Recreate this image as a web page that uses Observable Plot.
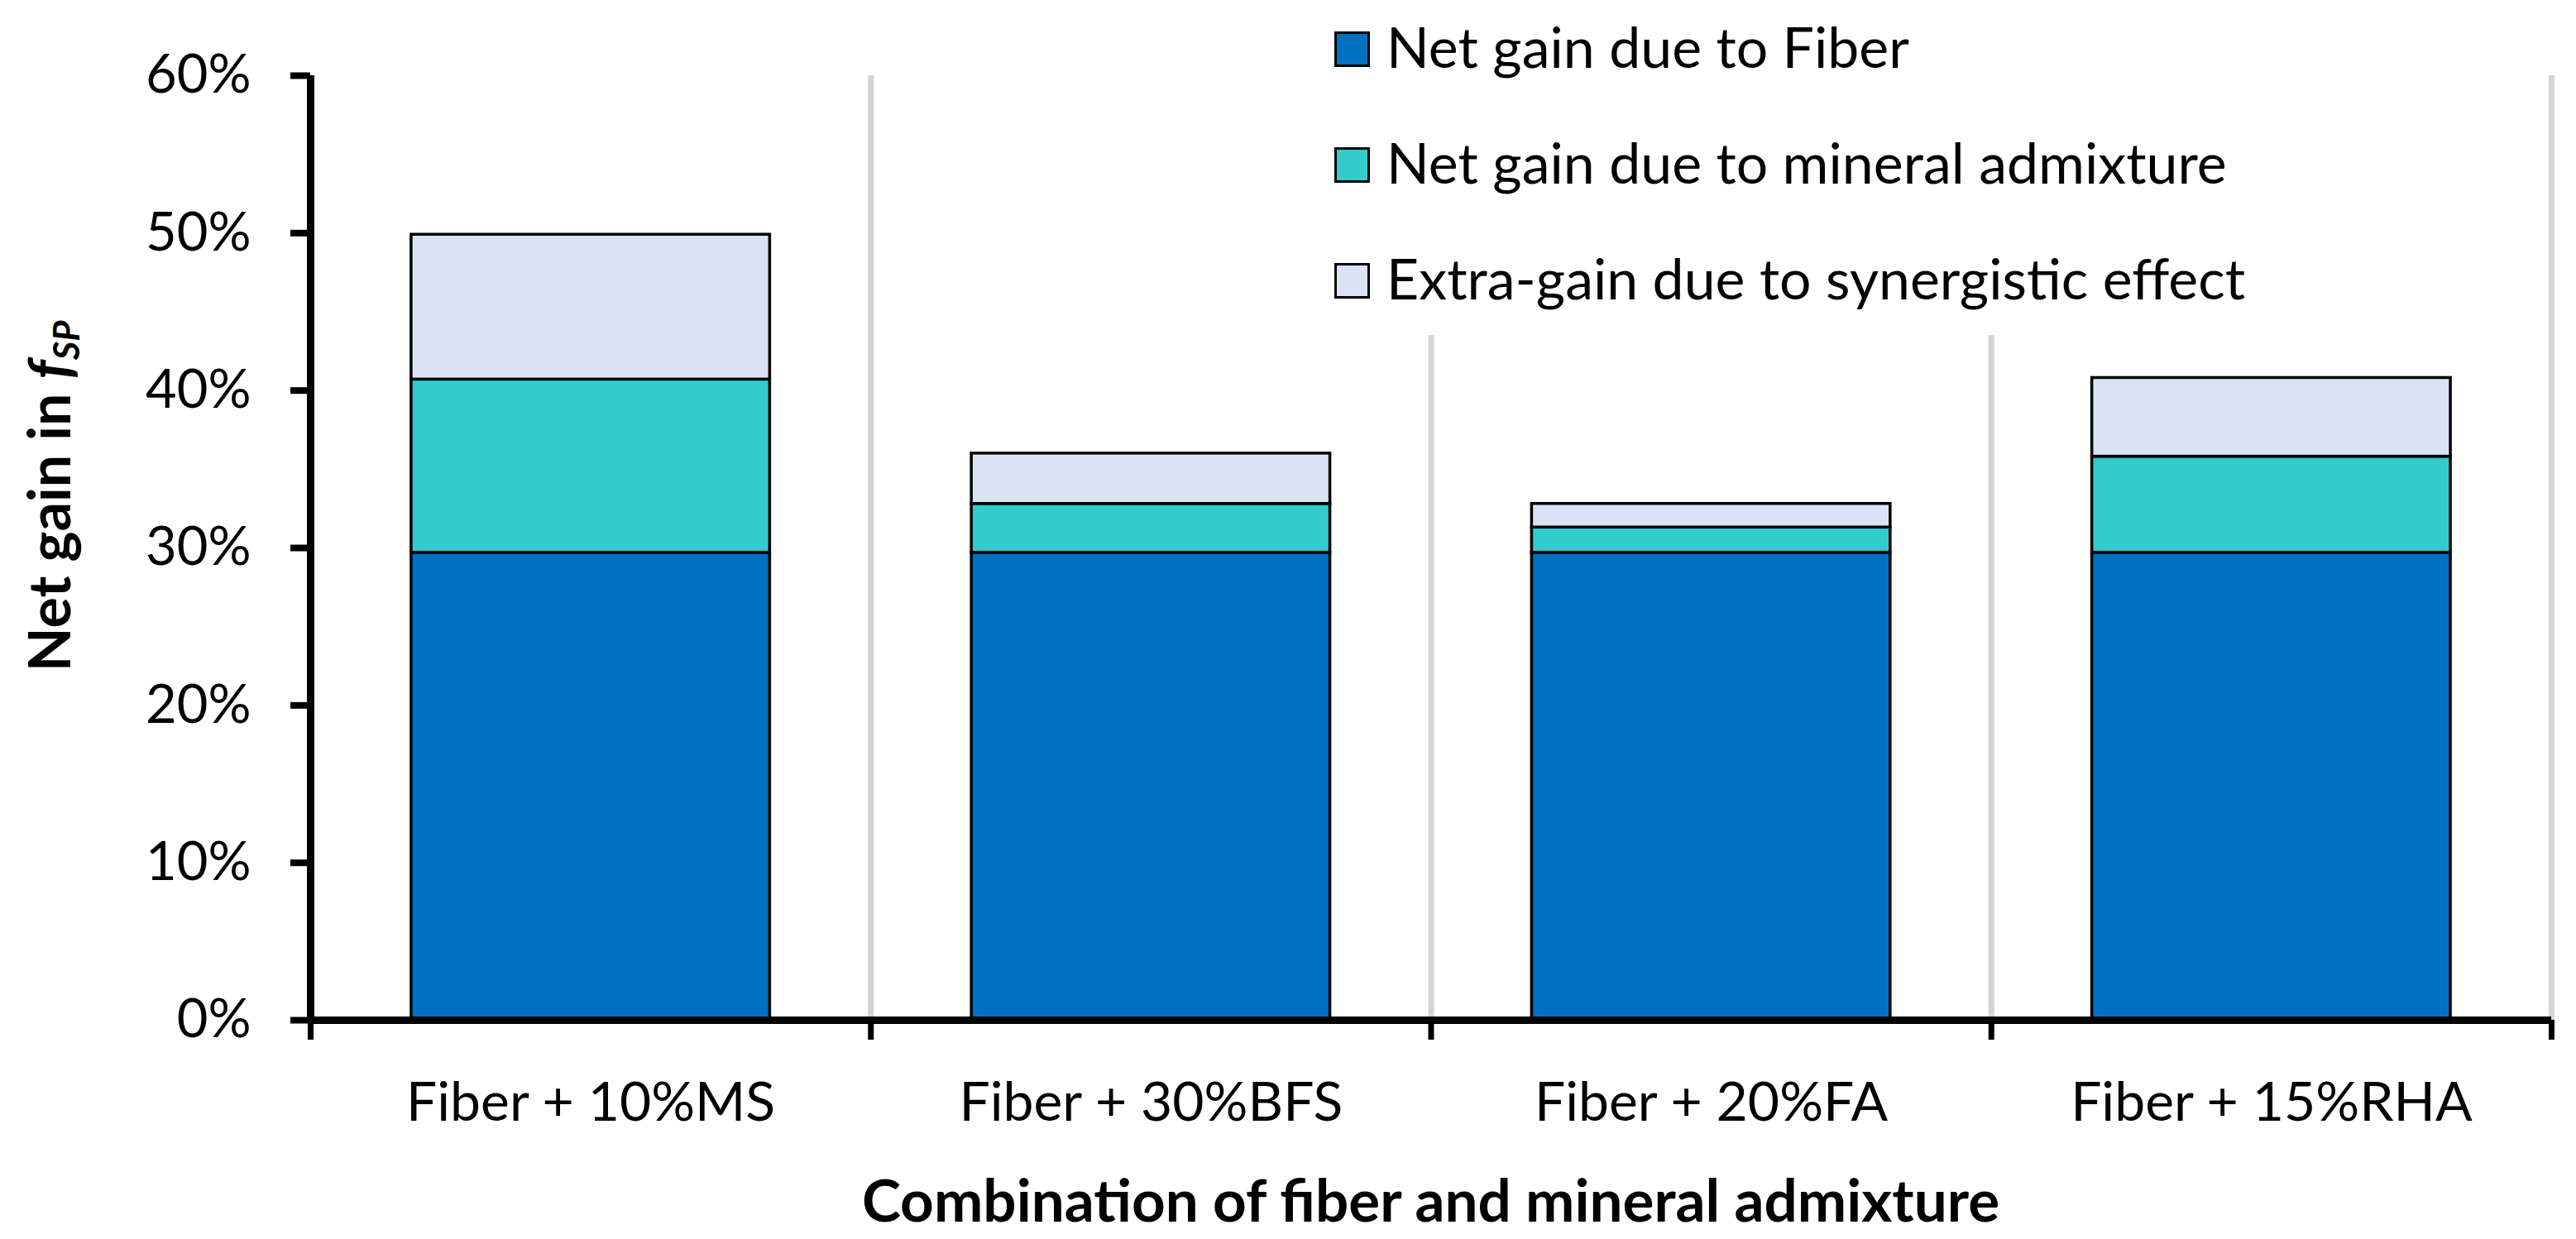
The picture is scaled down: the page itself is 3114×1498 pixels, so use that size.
<!DOCTYPE html>
<html>
<head>
<meta charset="utf-8">
<script src="https://cdn.jsdelivr.net/npm/d3@7"></script>
<script src="https://cdn.jsdelivr.net/npm/@observablehq/plot@0.6"></script>
<style>
  html, body { margin: 0; padding: 0; background: white; overflow: hidden; }
  #wrap { position: relative; width: 3114px; height: 1498px; font-family: "Lato", sans-serif; color: black; }
  #legend { position: absolute; left: 1600px; top: 0px; width: 1180px; height: 405px; background: white; }
  .row { position: absolute; left: 13px; height: 43px; display: flex; align-items: center; }
  .sw { width: 43px; height: 43px; box-sizing: border-box; border: 3px solid black; flex: none; }
  .lt { margin-left: 20px; font-size: 68px; line-height: 1; position: relative; top: -4px; white-space: nowrap; }
  #ytitle { position: absolute; left: 62px; top: 600px; transform: translate(-50%, -50%) rotate(-90deg); font-weight: bold; font-size: 70px; line-height: 1; white-space: nowrap; }
  #ytitle sub { font-size: 0.62em; font-style: italic; vertical-align: -0.25em; }
  #xtitle { position: absolute; left: 375px; width: 2709px; top: 1414px; text-align: center; font-weight: bold; font-size: 71px; line-height: 1; white-space: nowrap; }
</style>
</head>
<body>
<div id="wrap">
  <div id="chart"></div>
  <div id="legend"></div>
  <div id="ytitle">Net gain in <i>f</i><sub>SP</sub></div>
  <div id="xtitle">Combination of fiber and mineral admixture</div>
</div>
<script>
const categories = ["Fiber + 10%MS", "Fiber + 30%BFS", "Fiber + 20%FA", "Fiber + 15%RHA"];
const seriesNames = ["Net gain due to Fiber", "Net gain due to mineral admixture", "Extra-gain due to synergistic effect"];
const seriesColors = ["#0070C0", "#33CCCC", "#DAE3F3"];
const fiberGain = [29.7, 29.7, 29.7, 29.7];
const mineralGain = [11.0, 3.1, 1.6, 6.1];
const synergyGain = [9.2, 3.2, 1.5, 5.0];
const yTicks = [0, 10, 20, 30, 40, 50, 60];

const seriesValues = [fiberGain, mineralGain, synergyGain];
const rows = [];
categories.forEach((c, i) => {
  let base = 0;
  seriesValues.forEach((vals, s) => {
    rows.push({idx: i, category: c, series: seriesNames[s], y1: base, y2: base + vals[i]});
    base += vals[i];
  });
});

const pad = 0.18;
const chart = Plot.plot({
  width: 3114,
  height: 1498,
  marginLeft: 375,
  marginRight: 30,
  marginTop: 91,
  marginBottom: 265,
  style: {fontFamily: "Lato", fontSize: "65px", background: "white", color: "black"},
  x: {domain: [0, categories.length], axis: null},
  y: {domain: [0, 60], axis: null},
  color: {domain: seriesNames, range: seriesColors},
  marks: [
    Plot.ruleX(d3.range(1, categories.length + 1), {stroke: "#d4d4d4", strokeWidth: 7}),
    Plot.rectY(rows, {
      x1: d => d.idx + pad,
      x2: d => d.idx + 1 - pad,
      y1: "y1",
      y2: "y2",
      fill: "series",
      stroke: "black",
      strokeWidth: 3.5
    }),
    Plot.axisY({ticks: yTicks, tickFormat: d => d + "%", tickSize: 24, tickPadding: 48, strokeWidth: 8, fontSize: 65}),
    Plot.axisX({ticks: d3.range(0, categories.length + 1), tickSize: 24, tickFormat: () => "", strokeWidth: 7}),
    Plot.axisX({ticks: categories.map((c, i) => i + 0.5), tickSize: 0, tickPadding: 75, tickFormat: v => categories[Math.floor(v)], fontSize: 66}),
    Plot.ruleY([0], {stroke: "black", strokeWidth: 9}),
    Plot.ruleX([0], {stroke: "black", strokeWidth: 9})
  ]
});
document.getElementById("chart").appendChild(chart);

const legend = document.getElementById("legend");
seriesNames.forEach((name, i) => {
  const row = document.createElement("div");
  row.className = "row";
  row.style.top = (38 + 140 * i) + "px";
  const sw = document.createElement("div");
  sw.className = "sw";
  sw.style.background = seriesColors[i];
  const lt = document.createElement("div");
  lt.className = "lt";
  lt.textContent = name;
  row.appendChild(sw);
  row.appendChild(lt);
  legend.appendChild(row);
});
</script>
</body>
</html>
